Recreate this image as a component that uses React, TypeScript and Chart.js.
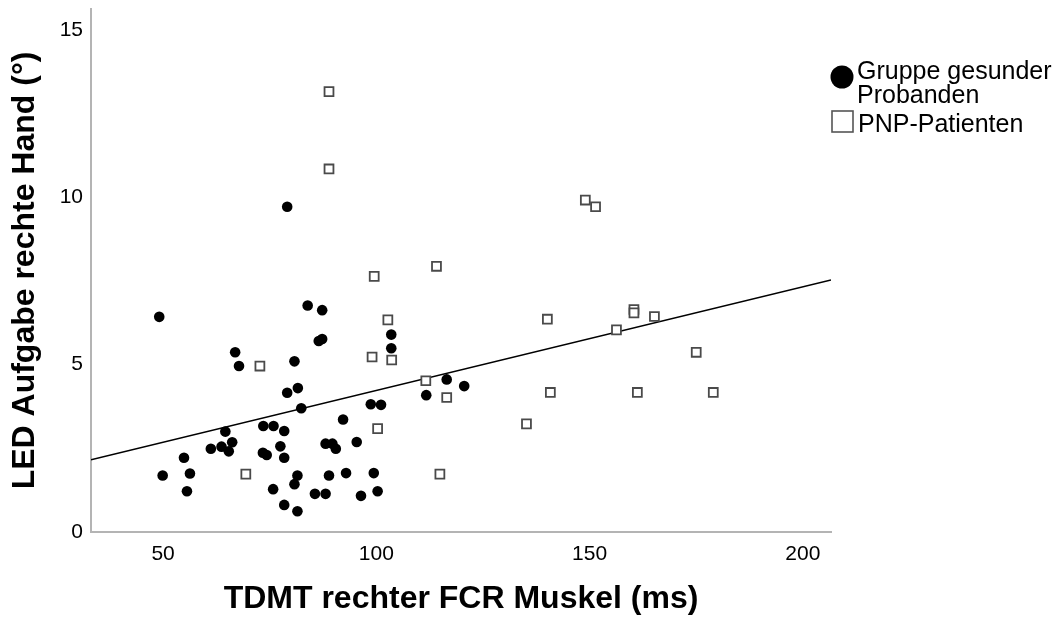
import React, { useEffect, useRef } from "react";
import { Chart, registerables } from "chart.js";

Chart.register(...registerables);

const FONT = '"Liberation Sans", Arial, Helvetica, sans-serif';

// Gruppe gesunder Probanden (filled circles)
const HEALTHY_X = [49.1, 49.9, 54.9, 56.3, 55.6, 61.2, 63.7, 64.6, 66.2, 65.4, 66.9, 67.8, 73.5, 75.9, 78.4, 77.5, 73.4, 74.3, 78.4, 79.1, 80.8, 79.1, 81.6, 82.4, 81.5, 80.8, 75.8, 78.4, 81.5, 83.9, 87.3, 86.5, 87.3, 92.2, 88.1, 89.7, 90.5, 95.4, 88.9, 92.9, 99.4, 85.6, 88.1, 96.4, 100.3, 103.5, 103.5, 98.7, 101.1, 111.7, 116.5, 120.6];
const HEALTHY_Y = [6.43, 1.69, 2.22, 1.75, 1.22, 2.49, 2.55, 3.0, 2.68, 2.41, 5.37, 4.96, 3.17, 3.17, 3.02, 2.56, 2.37, 2.3, 2.22, 9.72, 5.1, 4.16, 4.3, 3.7, 1.69, 1.43, 1.28, 0.81, 0.62, 6.77, 6.63, 5.71, 5.77, 3.36, 2.64, 2.64, 2.49, 2.69, 1.69, 1.76, 1.76, 1.14, 1.14, 1.08, 1.22, 5.9, 5.49, 3.82, 3.8, 4.09, 4.56, 4.36];

// PNP-Patienten (open squares)
const PNP_X = [88.9, 88.9, 99.5, 114.1, 102.7, 99.0, 103.6, 72.7, 111.6, 116.5, 100.3, 69.4, 114.9, 135.2, 140.1, 140.8, 149.0, 151.4, 156.3, 160.4, 160.4, 165.2, 161.2, 175.0, 179.0];
const PNP_Y = [13.16, 10.85, 7.64, 7.94, 6.34, 5.23, 5.14, 4.96, 4.52, 4.02, 3.09, 1.73, 1.73, 3.23, 6.36, 4.17, 9.92, 9.72, 6.04, 6.65, 6.55, 6.44, 4.17, 5.37, 4.17];

// Fit line
const FIT_INTERCEPT = 1.13;
const FIT_SLOPE = 0.031;

const X_MIN = 33.1;
const X_MAX = 206.6;
const Y_MIN = 0;
const Y_MAX = 15.63;
const X_TICKS = [50, 100, 150, 200];
const Y_TICKS = [0, 5, 10, 15];

const X_TITLE = "TDMT rechter FCR Muskel (ms)";
const Y_TITLE = "LED Aufgabe rechte Hand (°)";
const LEGEND_HEALTHY = ["Gruppe gesunder", "Probanden"];
const LEGEND_PNP = "PNP-Patienten";

export default function App() {
  const ref = useRef<HTMLCanvasElement>(null);

  useEffect(() => {
    if (!ref.current) return;

    const legendPlugin = {
      id: "customLegend",
      afterDraw(chart: any) {
        const ctx = chart.ctx;
        ctx.save();
        ctx.fillStyle = "#000";
        ctx.beginPath();
        ctx.arc(842, 77, 11.5, 0, Math.PI * 2);
        ctx.fill();
        ctx.font = `25px ${FONT}`;
        ctx.textBaseline = "alphabetic";
        ctx.textAlign = "left";
        ctx.fillText(LEGEND_HEALTHY[0], 857, 78.5);
        ctx.fillText(LEGEND_HEALTHY[1], 857, 103);
        ctx.fillStyle = "#fff";
        ctx.fillRect(832, 111, 21, 21);
        ctx.strokeStyle = "#555";
        ctx.lineWidth = 1.6;
        ctx.strokeRect(832, 111, 21, 21);
        ctx.fillStyle = "#000";
        ctx.fillText(LEGEND_PNP, 858, 132);
        ctx.restore();
      },
    };

    const chart = new Chart(ref.current, {
      type: "scatter",
      data: {
        datasets: [
          {
            label: LEGEND_PNP,
            data: PNP_X.map((x, i) => ({ x, y: PNP_Y[i] })),
            pointStyle: "rect",
            pointRadius: 6.3,
            pointBackgroundColor: "#fff",
            pointBorderColor: "#4a4a4a",
            pointBorderWidth: 1.8,
          },
          {
            label: LEGEND_HEALTHY.join(" "),
            data: HEALTHY_X.map((x, i) => ({ x, y: HEALTHY_Y[i] })),
            pointStyle: "circle",
            pointRadius: 5.3,
            pointBackgroundColor: "#000",
            pointBorderColor: "#000",
            pointBorderWidth: 0,
          },
          {
            type: "line",
            label: "Fit",
            data: [X_MIN, X_MAX].map((x) => ({ x, y: FIT_INTERCEPT + FIT_SLOPE * x })),
            borderColor: "#000",
            borderWidth: 1.5,
            pointRadius: 0,
            fill: false,
          } as any,
        ],
      },
      options: {
        animation: false,
        responsive: false,
        layout: { padding: { left: 0, top: 9, right: 229, bottom: 0 } },
        plugins: {
          legend: { display: false },
          tooltip: { enabled: false },
        },
        scales: {
          x: {
            type: "linear",
            min: X_MIN,
            max: X_MAX,
            afterBuildTicks: (s: any) => {
              s.ticks = X_TICKS.map((v) => ({ value: v }));
            },
            afterFit: (s: any) => {
              s.height = 89;
              s.paddingLeft = 0;
              s.paddingRight = 0;
            },
            grid: { display: false, drawTicks: false },
            border: { display: true, color: "#b4b4b4", width: 2 },
            ticks: {
              font: { family: FONT, size: 21 },
              color: "#000",
              padding: 10,
              maxRotation: 0,
            },
            title: {
              display: true,
              text: X_TITLE,
              font: { family: FONT, size: 32, weight: "bold" },
              color: "#000",
              padding: { top: 0, bottom: 3 },
            },
          },
          y: {
            type: "linear",
            min: Y_MIN,
            max: Y_MAX,
            afterBuildTicks: (s: any) => {
              s.ticks = Y_TICKS.map((v) => ({ value: v }));
            },
            afterFit: (s: any) => {
              s.width = 91;
              s.paddingTop = 0;
              s.paddingBottom = 0;
            },
            grid: { display: false, drawTicks: false },
            border: { display: true, color: "#b4b4b4", width: 2 },
            ticks: {
              font: { family: FONT, size: 21 },
              color: "#000",
              padding: 8,
            },
            title: {
              display: true,
              text: Y_TITLE,
              font: { family: FONT, size: 32, weight: "bold" },
              color: "#000",
              padding: { top: 6, bottom: 0 },
            },
          },
        },
      },
      plugins: [legendPlugin],
    });

    return () => chart.destroy();
  }, []);

  return (
    <div style={{ position: "absolute", left: 0, top: 0, width: 1060, height: 621, background: "#fff" }}>
      <canvas ref={ref} width={1060} height={621} style={{ display: "block" }} />
    </div>
  );
}
